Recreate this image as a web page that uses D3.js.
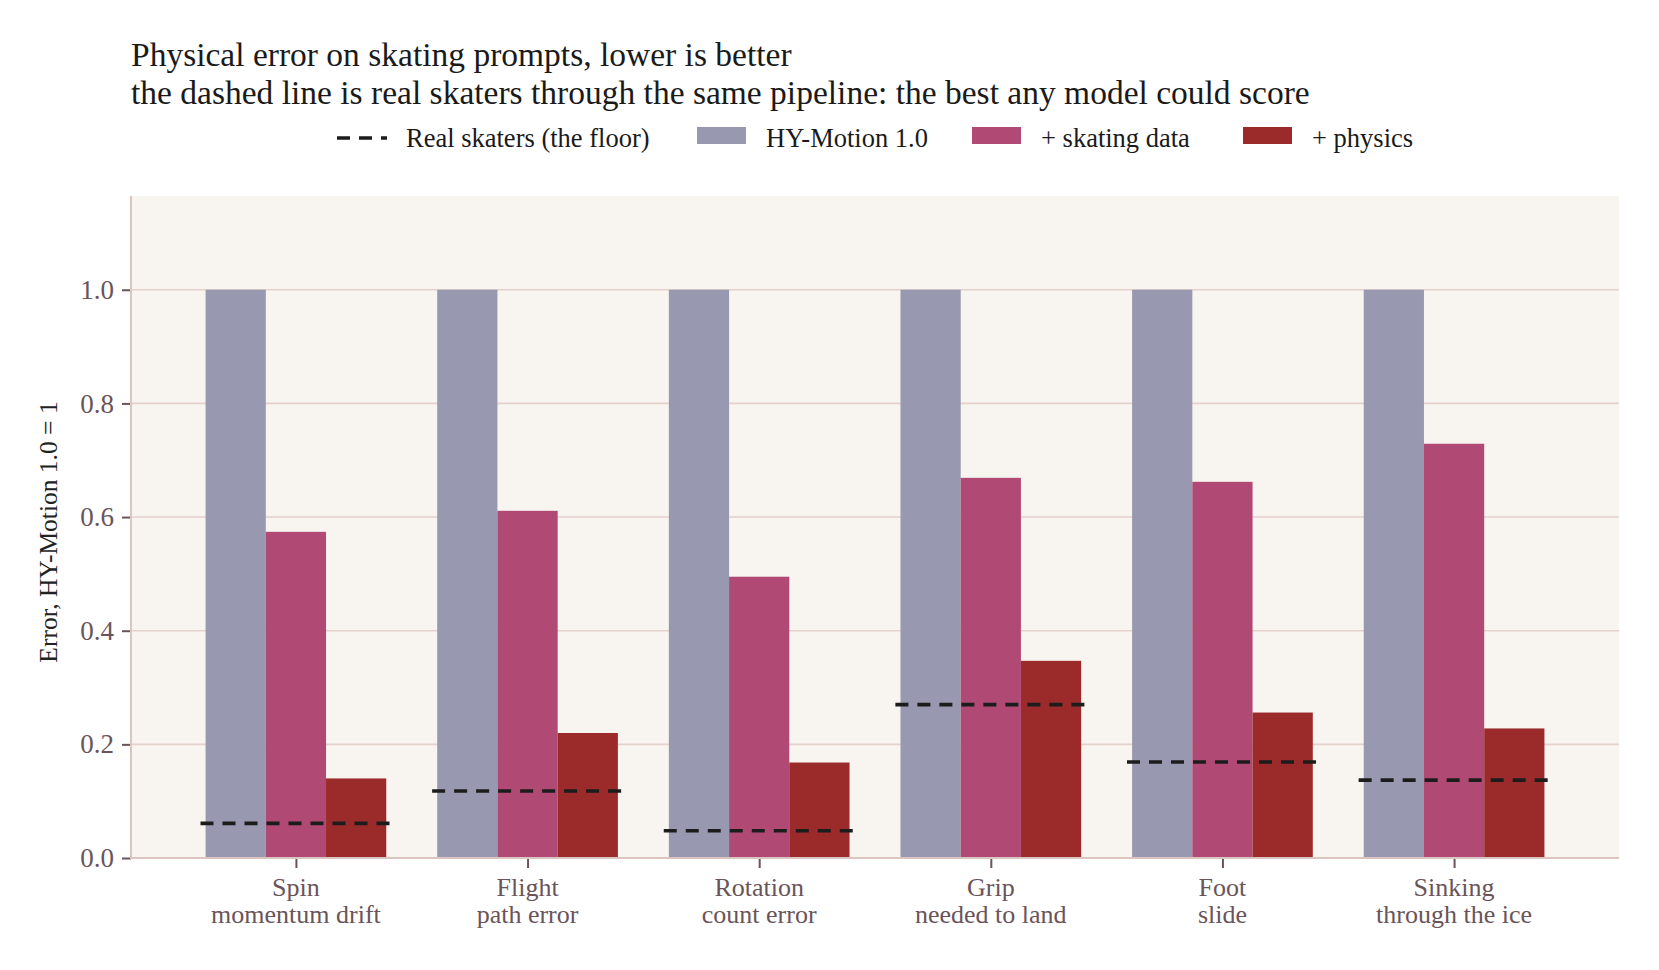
<!DOCTYPE html>
<html>
<head>
<meta charset="utf-8">
<script src="https://cdn.jsdelivr.net/npm/d3@7"></script>
<style>
  body { margin: 0; background: #fff; }
  svg { display: block; font-family: "Palatino Linotype", "Book Antiqua", Palatino, "Liberation Serif", serif; }
</style>
</head>
<body>
<div id="chart"></div>
<script>
const width = 1659;
const height = 970;

// data
const categories = ["Spin\nmomentum drift", "Flight\npath error", "Rotation\ncount error",
  "Grip\nneeded to land", "Foot\nslide", "Sinking\nthrough the ice"];
const seriesNames = ["HY-Motion 1.0", "+ skating data", "+ physics"];
const hyMotion = [1.0, 1.0, 1.0, 1.0, 1.0, 1.0];
const skatingData = [0.574, 0.611, 0.495, 0.669, 0.662, 0.729];
const physics = [0.140, 0.220, 0.168, 0.347, 0.256, 0.228];
const realSkaters = [0.061, 0.118, 0.048, 0.270, 0.169, 0.137];
const yTicks = [0, 0.2, 0.4, 0.6, 0.8, 1.0];

const colors = ["#9898b0", "#b04a74", "#9b2a2b"];
const series = [hyMotion, skatingData, physics];

const plot = { left: 131, right: 1619, top: 196, bottom: 858 };
const barW = 0.26;

const svg = d3.select("#chart")
  .append("svg")
  .attr("width", width)
  .attr("height", height);

const x = d3.scaleLinear().domain([-0.712, categories.length - 1 + 0.712]).range([plot.left, plot.right]);
const y = d3.scaleLinear().domain([0, 1.165]).range([plot.bottom, plot.top]);

// plot background
svg.append("rect")
  .attr("x", plot.left).attr("y", plot.top)
  .attr("width", plot.right - plot.left)
  .attr("height", plot.bottom - plot.top)
  .attr("fill", "#f8f4ef");

// gridlines
svg.append("g")
  .selectAll("line")
  .data(yTicks.filter(d => d > 0))
  .join("line")
  .attr("x1", plot.left).attr("x2", plot.right)
  .attr("y1", d => y(d)).attr("y2", d => y(d))
  .attr("stroke", "#e4d1cb")
  .attr("stroke-width", 1.6);

// bars
series.forEach((vals, s) => {
  svg.append("g")
    .selectAll("rect")
    .data(vals)
    .join("rect")
    .attr("x", (d, i) => x(i + (s - 1.5) * barW))
    .attr("width", x(barW) - x(0))
    .attr("y", d => y(d))
    .attr("height", d => y(0) - y(d))
    .attr("fill", colors[s]);
});

// floor lines
svg.append("g")
  .selectAll("line")
  .data(realSkaters)
  .join("line")
  .attr("x1", (d, i) => x(i - 0.412))
  .attr("x2", (d, i) => x(i + 0.412))
  .attr("y1", d => y(d)).attr("y2", d => y(d))
  .attr("stroke", "#1c1c1c")
  .attr("stroke-width", 3.6)
  .attr("stroke-dasharray", "13,9");

// y axis
const yAxis = svg.append("g")
  .attr("transform", `translate(${plot.left},0)`)
  .call(d3.axisLeft(y).tickValues(yTicks).tickFormat(d3.format(".1f")).tickSize(9).tickPadding(8))
  .attr("font-family", null)
  .attr("font-size", null);
yAxis.select(".domain").remove();
yAxis.selectAll(".tick line").attr("stroke", "#6a545a").attr("stroke-width", 2);
yAxis.selectAll(".tick text")
  .attr("fill", "#6a545a")
  .attr("font-size", "27px");

// x axis ticks
const xAxis = svg.append("g")
  .attr("transform", `translate(0,${plot.bottom})`)
  .call(d3.axisBottom(x).tickValues(d3.range(categories.length)).tickFormat("").tickSize(10));
xAxis.select(".domain").remove();
xAxis.selectAll(".tick line").attr("stroke", "#6a545a").attr("stroke-width", 2);

// spines
svg.append("line")
  .attr("x1", plot.left).attr("x2", plot.left)
  .attr("y1", plot.top).attr("y2", plot.bottom + 1)
  .attr("stroke", "#dcc5c0").attr("stroke-width", 2);
svg.append("line")
  .attr("x1", plot.left - 1).attr("x2", plot.right)
  .attr("y1", plot.bottom).attr("y2", plot.bottom)
  .attr("stroke", "#dcc5c0").attr("stroke-width", 2);

// category labels
const catText = svg.append("g")
  .selectAll("text")
  .data(categories)
  .join("text")
  .attr("text-anchor", "middle")
  .attr("fill", "#6a545a")
  .attr("font-size", "26px");
catText.selectAll("tspan")
  .data((d, i) => d.split("\n").map(t => ({ t, i })))
  .join("tspan")
  .attr("x", d => x(d.i))
  .attr("y", (d, j) => 896 + j * 27)
  .text(d => d.t);

// y label
svg.append("text")
  .attr("transform", `translate(57,${(plot.top + plot.bottom) / 2 + 5}) rotate(-90)`)
  .attr("text-anchor", "middle")
  .attr("fill", "#222")
  .attr("font-size", "25.5px")
  .text("Error, HY-Motion 1.0 = 1");

// title
svg.append("text")
  .attr("x", 131).attr("y", 66)
  .attr("fill", "#1a1a1a")
  .attr("font-size", "33.5px")
  .text("Physical error on skating prompts, lower is better");
svg.append("text")
  .attr("x", 131).attr("y", 104)
  .attr("fill", "#1a1a1a")
  .attr("font-size", "33.5px")
  .text("the dashed line is real skaters through the same pipeline: the best any model could score");

// legend
const legend = svg.append("g").attr("font-size", "26.5px").attr("fill", "#1a1a1a");
legend.append("line")
  .attr("x1", 337).attr("x2", 387)
  .attr("y1", 138).attr("y2", 138)
  .attr("stroke", "#1c1c1c")
  .attr("stroke-width", 3.6)
  .attr("stroke-dasharray", "13,9");
legend.append("text").attr("x", 406).attr("y", 147).text("Real skaters (the floor)");

const legendX = [697, 972, 1243];
seriesNames.forEach((name, s) => {
  legend.append("rect")
    .attr("x", legendX[s]).attr("y", 127)
    .attr("width", 49).attr("height", 17)
    .attr("fill", colors[s]);
  legend.append("text")
    .attr("x", legendX[s] + 69).attr("y", 147)
    .text(name);
});
</script>
</body>
</html>
